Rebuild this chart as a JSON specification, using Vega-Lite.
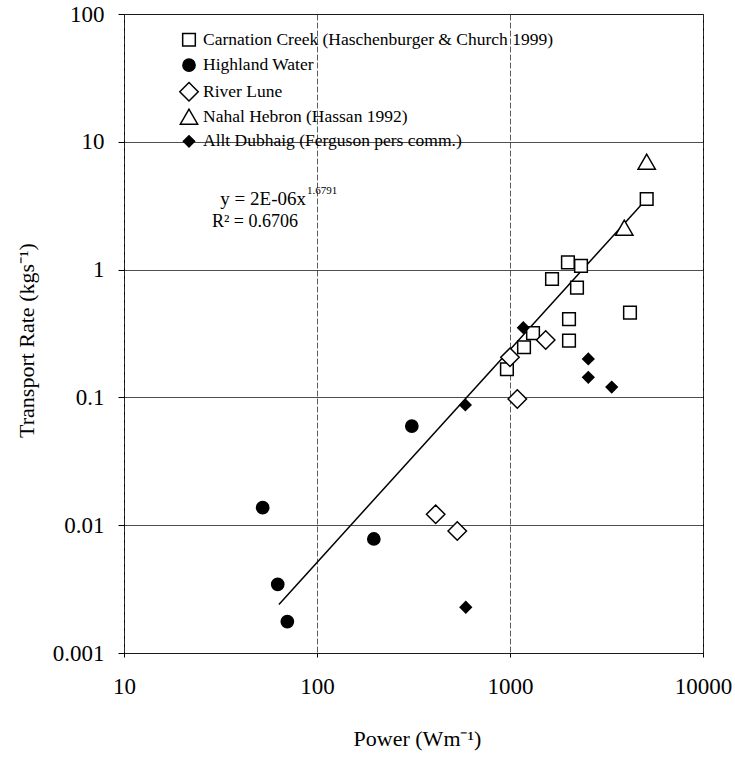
{
  "$schema": "https://vega.github.io/schema/vega-lite/v6.json",
  "autosize": {"type": "none"},
  "padding": {"left": 124, "top": 14, "right": 32, "bottom": 104},
  "width": 579,
  "height": 639,
  "background": "white",
  "config": {
    "font": "Liberation Serif",
    "view": {"stroke": "black", "strokeWidth": 1},
    "axis": {"labelFont": "Liberation Serif", "titleFont": "Liberation Serif", "labelColor": "black", "titleColor": "black", "titleFontWeight": "normal", "domain": false},
    "legend": {
      "title": null, "orient": "none", "legendX": 55, "legendY": 17, "padding": 0,
      "labelFontSize": 17.5, "labelFont": "Liberation Serif", "labelColor": "black", "labelLimit": 600,
      "rowPadding": -0.6, "labelOffset": 4, "gridAlign": "all"
    }
  },
  "datasets": {
    "points": [
      {"site": "Carnation Creek (Haschenburger & Church 1999)", "power": 1996, "rate": 1.14},
      {"site": "Carnation Creek (Haschenburger & Church 1999)", "power": 2333, "rate": 1.07},
      {"site": "Carnation Creek (Haschenburger & Church 1999)", "power": 1651, "rate": 0.844},
      {"site": "Carnation Creek (Haschenburger & Church 1999)", "power": 2224, "rate": 0.722},
      {"site": "Carnation Creek (Haschenburger & Church 1999)", "power": 4185, "rate": 0.46},
      {"site": "Carnation Creek (Haschenburger & Church 1999)", "power": 2022, "rate": 0.41},
      {"site": "Carnation Creek (Haschenburger & Church 1999)", "power": 1316, "rate": 0.318},
      {"site": "Carnation Creek (Haschenburger & Church 1999)", "power": 1182, "rate": 0.247},
      {"site": "Carnation Creek (Haschenburger & Church 1999)", "power": 2022, "rate": 0.278},
      {"site": "Carnation Creek (Haschenburger & Church 1999)", "power": 964, "rate": 0.166},
      {"site": "Carnation Creek (Haschenburger & Church 1999)", "power": 5108, "rate": 3.57},
      {"site": "Highland Water", "power": 310, "rate": 0.0597},
      {"site": "Highland Water", "power": 52.3, "rate": 0.0137},
      {"site": "Highland Water", "power": 62.6, "rate": 0.00345},
      {"site": "Highland Water", "power": 70.2, "rate": 0.00176},
      {"site": "Highland Water", "power": 197, "rate": 0.0078},
      {"site": "River Lune", "power": 1000, "rate": 0.206},
      {"site": "River Lune", "power": 1531, "rate": 0.281},
      {"site": "River Lune", "power": 1091, "rate": 0.0972},
      {"site": "River Lune", "power": 412, "rate": 0.01217},
      {"site": "River Lune", "power": 533, "rate": 0.00901},
      {"site": "Nahal Hebron (Hassan 1992)", "power": 5108, "rate": 6.99},
      {"site": "Nahal Hebron (Hassan 1992)", "power": 3910, "rate": 2.13},
      {"site": "Allt Dubhaig (Ferguson pers comm.)", "power": 1172, "rate": 0.351},
      {"site": "Allt Dubhaig (Ferguson pers comm.)", "power": 587, "rate": 0.0873},
      {"site": "Allt Dubhaig (Ferguson pers comm.)", "power": 2545, "rate": 0.2},
      {"site": "Allt Dubhaig (Ferguson pers comm.)", "power": 2545, "rate": 0.1436},
      {"site": "Allt Dubhaig (Ferguson pers comm.)", "power": 3365, "rate": 0.1205},
      {"site": "Allt Dubhaig (Ferguson pers comm.)", "power": 590, "rate": 0.00228}
    ],
    "trend": [
      {"power": 63.5, "rate": 0.0024},
      {"power": 5100, "rate": 3.57}
    ],
    "eq": [
      {"power": 87.7, "rate": 3.57, "label": "y = 2E-06x"}
    ],
    "eqsup": [
      {"power": 87.7, "rate": 3.57, "label": "1.6791"}
    ],
    "r2": [
      {"power": 47.7, "rate": 2.35, "label": "R² = 0.6706"}
    ]
  },
  "encoding": {
    "x": {
      "field": "power", "type": "quantitative",
      "scale": {"type": "log", "domain": [10, 10000], "nice": false},
      "axis": {
        "title": "Power (Wm⁻¹)", "values": [10, 100, 1000, 10000], "format": "~g",
        "labelFontSize": 23, "titleFontSize": 22, "labelPadding": 18, "tickSize": 4, "tickColor": "black",
        "grid": true, "gridColor": "#333", "gridWidth": 0.8, "gridDash": [6, 2],
        "titleX": 293, "titleY": 85, "titleBaseline": "middle", "labelFlush": false
      }
    },
    "y": {
      "field": "rate", "type": "quantitative",
      "scale": {"type": "log", "domain": [0.001, 100], "nice": false},
      "axis": {
        "title": "Transport Rate (kgs⁻¹)", "values": [0.001, 0.01, 0.1, 1, 10, 100], "format": "~g",
        "labelFontSize": 23, "titleFontSize": 22, "labelPadding": 14, "tickSize": 6, "tickColor": "black",
        "grid": true, "gridColor": "#222", "gridWidth": 0.8,
        "titleX": -98, "titleY": 326, "titleBaseline": "middle", "titleAngle": -90, "labelFlush": false
      }
    }
  },
  "layer": [
    {
      "data": {"name": "trend"},
      "mark": {"type": "line", "color": "black", "strokeWidth": 1.5}
    },
    {
      "data": {"name": "points"},
      "mark": {"type": "point", "filled": true, "stroke": "black", "strokeWidth": 1.5, "opacity": 1},
      "encoding": {
        "shape": {
          "field": "site", "type": "nominal",
          "scale": {
            "domain": ["Carnation Creek (Haschenburger & Church 1999)", "Highland Water", "River Lune", "Nahal Hebron (Hassan 1992)", "Allt Dubhaig (Ferguson pers comm.)"],
            "range": ["square", "circle", "diamond", "triangle-up", "diamond"]
          },
          "legend": {
            "encode": {"symbols": {"update": {"stroke": {"value": "black"}, "strokeWidth": {"value": 1.3}}}}
          }
        },
        "fill": {
          "field": "site", "type": "nominal",
          "scale": {
            "domain": ["Carnation Creek (Haschenburger & Church 1999)", "Highland Water", "River Lune", "Nahal Hebron (Hassan 1992)", "Allt Dubhaig (Ferguson pers comm.)"],
            "range": ["white", "black", "white", "white", "black"]
          },
          "legend": {
            "encode": {"symbols": {"update": {"stroke": {"value": "black"}, "strokeWidth": {"value": 1.3}}}}
          }
        },
        "size": {
          "field": "site", "type": "nominal",
          "scale": {
            "type": "ordinal",
            "domain": ["Carnation Creek (Haschenburger & Church 1999)", "Highland Water", "River Lune", "Nahal Hebron (Hassan 1992)", "Allt Dubhaig (Ferguson pers comm.)"],
            "range": [160, 150, 340, 300, 125]
          },
          "legend": {
            "encode": {"symbols": {"update": {"stroke": {"value": "black"}, "strokeWidth": {"value": 1.3}}}}
          }
        }
      }
    },
    {
      "data": {"name": "eq"},
      "mark": {"type": "text", "align": "right", "baseline": "middle", "fontSize": 19, "font": "Liberation Serif", "color": "black"},
      "encoding": {"text": {"field": "label"}}
    },
    {
      "data": {"name": "eqsup"},
      "mark": {"type": "text", "align": "left", "baseline": "middle", "fontSize": 11, "dy": -8, "dx": 1, "font": "Liberation Serif", "color": "black"},
      "encoding": {"text": {"field": "label"}}
    },
    {
      "data": {"name": "r2"},
      "mark": {"type": "text", "align": "center", "baseline": "middle", "fontSize": 18, "font": "Liberation Serif", "color": "black"},
      "encoding": {"text": {"field": "label"}}
    }
  ]
}
